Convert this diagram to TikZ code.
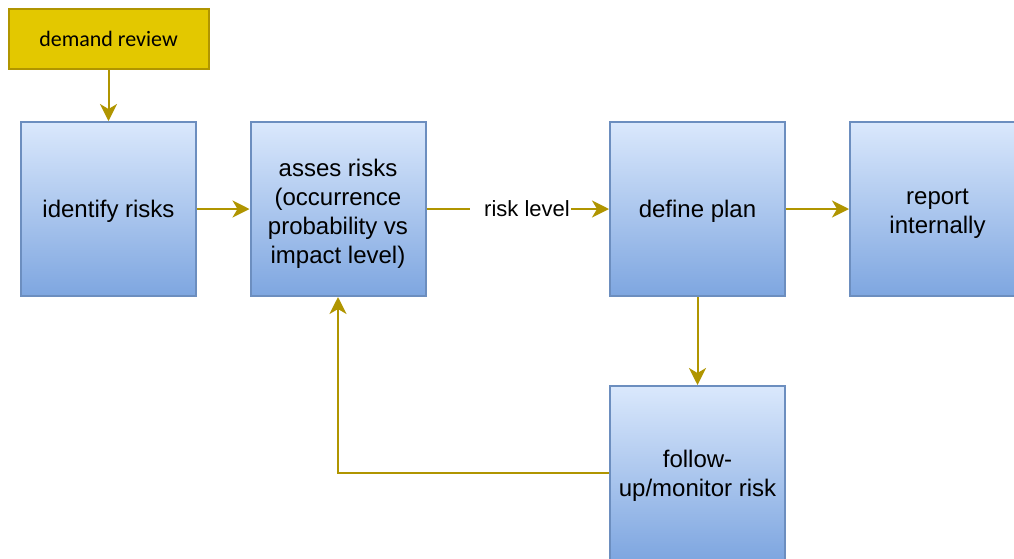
\documentclass[tikz,border=0pt]{standalone}
\usepackage{fontspec}
\setmainfont{Liberation Sans}
\newfontfamily\calibri{Carlito}
\usetikzlibrary{arrows.meta,positioning}
\definecolor{bluetop}{HTML}{DAE8FC}
\definecolor{bluebot}{HTML}{7EA6E0}
\definecolor{bluestroke}{HTML}{6C8EBF}
\definecolor{yelfill}{HTML}{E3C800}
\definecolor{yelstroke}{HTML}{B09500}
\tikzset{
  bluebox/.style={draw=bluestroke, line width=2pt, top color=bluetop, bottom color=bluebot,
    minimum width=175pt, minimum height=174pt, inner sep=0pt},
  boxtext/.style={align=center, inner sep=0pt, font=\fontsize{24}{29}\selectfont},
  yelbox/.style={draw=yelstroke, line width=2pt, fill=yelfill,
    minimum width=200pt, minimum height=60pt, align=center,
    font=\calibri\fontsize{22}{26}\selectfont},
  line/.style={draw=yelstroke, line width=2pt},
  arr/.style={line, -{Stealth[length=17pt, width=17pt, inset=5pt]}},
  lbl/.style={inner sep=1pt, font=\fontsize{22}{26}\selectfont}
}
\begin{document}
\begin{tikzpicture}[x=1pt,y=-1pt]
\useasboundingbox (0,0) rectangle (1014,558);
\clip (0,0) rectangle (1014,558);
\node[yelbox] (demand) at (108.5,39) {demand review};
\node[bluebox] (identify) at (108.5,209) {};
\node[bluebox] (asses) at (338,209) {};
\node[bluebox] (define) at (697.5,209) {};
\node[bluebox] (report) at (937.5,209) {};
\node[bluebox] (follow) at (697.5,473) {};
\node[boxtext] (identify-t) at ([yshift=-2pt]identify.center) {identify risks};
\node[boxtext] (asses-t) at ([yshift=-5pt]asses.center) {asses risks\\(occurrence\\probability vs\\impact level)};
\node[boxtext] (define-t) at ([yshift=-2pt]define.center) {define plan};
\node[boxtext] (report-t) at ([yshift=-5pt]report.center) {report\\internally};
\node[boxtext] (follow-t) at ([yshift=-3pt]follow.center) {follow-\\up/monitor risk};
\node[lbl] (rl) at (527,209) {risk level};
\coordinate (rlgap) at ([xshift=-13pt]rl.west);
\draw[arr] (demand) -- (identify);
\draw[arr] (identify) -- (asses);
\draw[line] (asses.east) -- (rlgap);
\draw[arr] (rl.east) -- (define.west);
\draw[arr] (define) -- (report);
\draw[arr] (define) -- (follow);
\draw[arr] (follow.west) -| (asses.south);
\end{tikzpicture}
\end{document}
